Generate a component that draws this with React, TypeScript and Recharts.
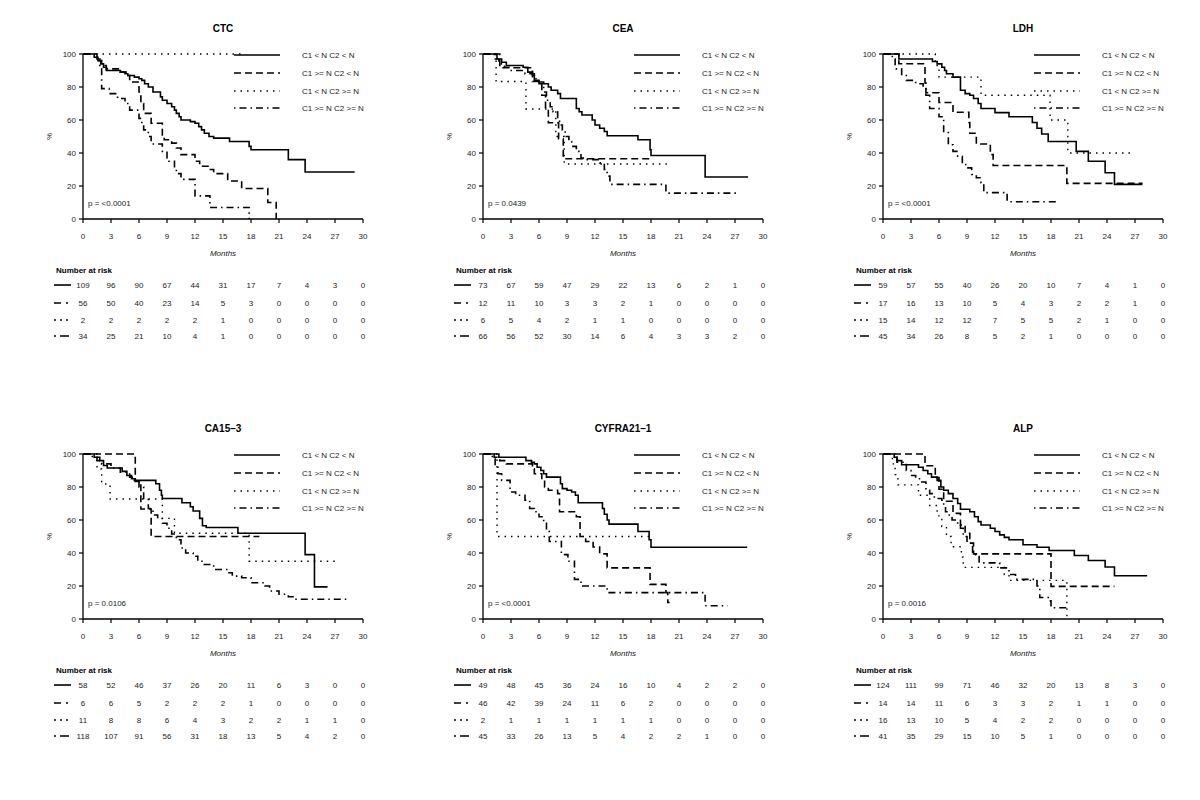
import React from 'react';
import { LineChart, Line, XAxis, YAxis } from 'recharts';

// ---------- shared labels / ticks ----------
const monthTicks = [0, 3, 6, 9, 12, 15, 18, 21, 24, 27, 30];
const pctTicks = [0, 20, 40, 60, 80, 100];
const groupLabels = ['C1 < N C2 < N', 'C1 >= N C2 < N', 'C1 < N C2 >= N', 'C1 >= N C2 >= N'];
const lineDashes = ['', '7 4', '1.5 5', '7 4 1.5 4'];
const legendOffsets = [0, 0, 0, 11];
const tableDashes = ['', '7 5 2 5', '2 4', '2 4 9 5'];

// ---------- CTC ----------
const ctcA: number[][] = [[0,100],[1.2,98],[1.6,96],[1.9,94],[2.2,92],[2.5,90],[4,89],[4.5,88],[4.8,87],[5.5,86],[6,85],[6.3,84],[6.6,82],[7,80],[7.5,77],[8.3,74],[8.5,72],[9,70],[9.5,68],[9.8,66],[10,64],[10.3,62],[10.5,60],[11.5,59],[12,58],[12.4,56],[12.7,54],[13,52],[13.5,50],[14,49],[15.7,47],[17.8,44],[18,42],[22,36],[23.8,28.5],[29.1,28.5]];
const ctcB: number[][] = [[0,100],[1.5,96],[2,93],[2.5,91],[4,89],[4.8,87],[5,83],[6,77],[6.2,70],[6.5,64],[7.3,58],[8.5,50],[8.7,48],[9.5,46],[10,43],[10.5,39],[12,35],[12.5,32],[13.5,30],[14,27.5],[15.5,23],[17,18.5],[19.8,10],[20.7,0]];
const ctcC: number[][] = [[0,100],[17,100]];
const ctcD: number[][] = [[0,100],[1.5,97],[1.8,91],[2,79],[2.8,76],[3.7,73],[4.5,70],[5,66],[6,61],[6.3,58],[6.5,54],[7,50],[7.3,45.5],[8.5,41],[9,37],[9.2,35],[9.8,30],[10,27.5],[10.5,24],[12,14],[13.6,7],[17.8,0]];
const ctcRisk = [
  [109, 96, 90, 67, 44, 31, 17, 7, 4, 3, 0],
  [56, 50, 40, 23, 14, 5, 3, 0, 0, 0, 0],
  [2, 2, 2, 2, 2, 1, 0, 0, 0, 0, 0],
  [34, 25, 21, 10, 4, 1, 0, 0, 0, 0, 0],
];

// ---------- CEA ----------
const ceaA: number[][] = [[0,100],[1.5,97],[2,95],[2.5,93],[4.3,92],[4.8,89],[5.3,87],[5.5,84],[6,83],[6.5,82],[7,80],[7.3,78],[8,76],[8.3,73],[10,67],[10.3,65],[10.6,63],[11.7,60],[12,57],[12.5,55],[13,53],[13.3,50.5],[16.6,48],[17.9,42],[18,38.5],[23.8,25.5],[28.4,25.5]];
const ceaB: number[][] = [[0,100],[1.8,91.7],[5.3,83.3],[6.3,75],[6.7,66.7],[7,58.3],[8.1,48.6],[8.6,36.5],[17.9,36.5]];
const ceaC: number[][] = [[0,100],[1.4,83.3],[4.6,66.7],[7.8,50],[8.7,33.3],[19.7,33.3]];
const ceaD: number[][] = [[0,100],[1.2,97],[1.7,94],[2.3,92],[2.8,90],[4.5,88],[5.5,85],[6,82],[6.5,77],[6.8,72],[7.2,68],[7.5,65],[8,61],[8.2,57],[8.5,54],[8.8,50],[9.2,47],[9.5,44],[10,41],[10.5,37],[11,36],[12.5,34],[13,30],[13.3,26],[13.6,21],[19.6,15.7],[27.5,15.7]];
const ceaRisk = [
  [73, 67, 59, 47, 29, 22, 13, 6, 2, 1, 0],
  [12, 11, 10, 3, 3, 2, 1, 0, 0, 0, 0],
  [6, 5, 4, 2, 1, 1, 0, 0, 0, 0, 0],
  [66, 56, 52, 30, 14, 6, 4, 3, 3, 2, 0],
];

// ---------- LDH ----------
const ldhA: number[][] = [[0,100],[1.7,97],[5.3,95.5],[5.8,94],[6.3,92],[6.6,90],[6.8,88],[7.5,86],[8.3,78],[8.8,76],[9.3,75],[9.7,73],[10.2,70],[10.5,67],[12,64.5],[13.5,62],[16,58.5],[16.5,55],[17,51.5],[17.7,47],[20.7,41],[22,35],[23.8,28],[24.8,21],[27.8,21]];
const ldhB: number[][] = [[0,100],[1.7,94.1],[4.5,82.4],[4.6,76.5],[6,70.6],[7.5,64.7],[9.2,58.5],[9.3,52],[10,45.5],[11.5,39],[11.8,32.4],[19.7,21.6],[27.8,21.6]];
const ldhC: number[][] = [[0,100],[5.6,93],[6,86],[10.5,75],[17.9,60],[19.8,40],[26.8,40]];
const ldhD: number[][] = [[0,100],[1,97],[1.3,91],[2,87],[2.5,84],[3.5,82],[4.3,79],[4.6,75],[5,67],[6,62],[6.5,53],[7,45],[7.5,41],[8,38],[8.5,33],[9,31],[9.5,27],[10,25],[10.5,22],[10.8,16],[13.3,10.5],[18.9,10.5]];
const ldhRisk = [
  [59, 57, 55, 40, 26, 20, 10, 7, 4, 1, 0],
  [17, 16, 13, 10, 5, 4, 3, 2, 2, 1, 0],
  [15, 14, 12, 12, 7, 5, 5, 2, 1, 0, 0],
  [45, 34, 26, 8, 5, 2, 1, 0, 0, 0, 0],
];

// ---------- CA15-3 ----------
const caA: number[][] = [[0,100],[1.2,98],[1.8,96],[2.2,93],[2.6,91.5],[4.2,89.5],[4.7,87],[5.2,85],[5.6,84],[7.8,82],[8.2,78],[8.4,75],[8.5,73],[10.6,70.5],[11.5,68],[11.8,65.5],[12.5,61],[12.8,56.5],[13.2,55.5],[16.6,52],[23.8,39],[24.8,19.5],[26.2,19.5]];
const caB: number[][] = [[0,100],[5.6,83.3],[6.2,66.7],[7.3,50],[18.9,50]];
const caC: number[][] = [[0,100],[1.5,90.9],[2,81.8],[2.9,72.7],[8.5,61],[9.8,52],[17.8,35],[27.1,35]];
const caD: number[][] = [[0,100],[1,98],[1.5,96],[2,94],[3,91.5],[4,89],[5,86],[5.5,84],[6,80],[6.5,73],[7,67],[7.5,63],[8,61.5],[8.5,58],[9,55],[9.5,51.5],[10,48],[10.5,43],[11,40],[11.8,38],[12.3,35],[13,33],[14,30],[15.5,28],[16,26],[17,25],[18,22],[19.5,20],[20,17],[21,15],[22,13.5],[22.5,12],[28.6,12]];
const caRisk = [
  [58, 52, 46, 37, 26, 20, 11, 6, 3, 0, 0],
  [6, 6, 5, 2, 2, 2, 1, 0, 0, 0, 0],
  [11, 8, 8, 6, 4, 3, 2, 2, 1, 1, 0],
  [118, 107, 91, 56, 31, 18, 13, 5, 4, 2, 0],
];

// ---------- CYFRA21-1 ----------
const cyA: number[][] = [[0,100],[1.7,98],[4.6,96],[5.2,95],[5.5,94],[5.8,92],[6.2,90],[6.5,88],[6.8,86],[8.3,82],[8.5,79],[9,78],[9.5,77],[9.9,75],[10.2,70.5],[12.8,67],[13,63.5],[13.3,60],[13.5,57.5],[16.6,53],[17.8,48],[18,43.5],[28.3,43.5]];
const cyB: number[][] = [[0,100],[1.2,98],[1.8,96],[2.5,94],[5.3,91],[5.5,88],[6.3,84],[6.6,80],[7,78],[8,76],[8.2,65],[10,62],[10.4,50],[11,47],[11.8,43.6],[12.5,39.5],[13.3,31],[17.9,21],[19.6,16],[19.8,10],[20,10]];
const cyC: number[][] = [[0,100],[1.5,50],[17.9,50]];
const cyD: number[][] = [[0,100],[1,97],[1.3,93],[1.6,88],[2,84],[2.9,77],[3.5,75],[4.5,72],[5,67],[5.5,65],[6,62],[6.5,58],[6.8,53],[7.1,47],[8.4,39],[9.1,35],[9.8,24],[10.5,20],[13.3,16],[23.8,8],[26.2,8]];
const cyRisk = [
  [49, 48, 45, 36, 24, 16, 10, 4, 2, 2, 0],
  [46, 42, 39, 24, 11, 6, 2, 0, 0, 0, 0],
  [2, 1, 1, 1, 1, 1, 1, 0, 0, 0, 0],
  [45, 33, 26, 13, 5, 4, 2, 2, 1, 0, 0],
];

// ---------- ALP ----------
const alpA: number[][] = [[0,100],[1.2,98],[1.5,96],[2,93.5],[3.8,92],[4.3,90],[4.8,88],[5.2,86],[5.8,84],[6.2,80],[6.5,78],[7,76],[7.5,73],[8,70],[8.3,66.5],[9.3,65],[9.8,62],[10.2,59],[10.5,57],[11.5,55],[12,53],[12.5,51],[13,49.5],[13.5,48],[15,45],[16.5,43.5],[17.8,41.5],[20.5,38.5],[22,35.5],[23.8,31.5],[24.8,26.2],[28.3,26.2]];
const alpB: number[][] = [[0,100],[4.5,92.9],[5.6,85.7],[6,78.6],[6.5,71.4],[7.5,64],[8.3,57],[8.8,52],[9.3,46],[9.7,39.5],[18,19.8],[24.8,19.8]];
const alpC: number[][] = [[0,100],[1,94],[1.3,87.5],[1.6,81.3],[3.8,75],[5,68.8],[5.8,62.5],[6.3,56],[6.8,50],[7.3,43.8],[8.4,37.5],[8.6,31.3],[13,27],[13.5,23.4],[19.7,0]];
const alpD: number[][] = [[0,100],[1.5,95],[2.5,90],[3,87],[3.5,85],[4,83],[4.6,78],[5,76],[5.5,73],[6.3,72],[6.5,68],[6.7,65],[7,63],[7.4,60],[8,57],[8.3,55],[8.6,50],[9,46],[9.6,39],[10.3,34],[12.5,31],[13.5,27],[14.2,24],[16.5,20],[16.8,13],[17.7,11],[18,6.8],[19.8,6.8]];
const alpRisk = [
  [124, 111, 99, 71, 46, 32, 20, 13, 8, 3, 0],
  [14, 14, 11, 6, 3, 3, 2, 1, 1, 0, 0],
  [16, 13, 10, 5, 4, 2, 2, 0, 0, 0, 0],
  [41, 35, 29, 15, 10, 5, 1, 0, 0, 0, 0],
];

// ---------- layout constants (styling only) ----------
const W = 400;
const H = 400;
const PLOT_TOP = 54;
const PLOT_BOTTOM = 219;
const PLOT_LEFT = 83;
const PLOT_RIGHT = 363;
const LEG_Y = [55, 73, 91, 108];
const RISK_Y = [285, 303, 320, 336];
const FONT = '"Liberation Sans", Arial, Helvetica, sans-serif';
const TXT = '#1a1a1a';

type PanelProps = {
  title: string;
  pText: string;
  curves: number[][][];
  risk: number[][];
  left: number;
  top: number;
};

const Panel = ({ title, pText, curves, risk, left, top }: PanelProps) => {
  const cx = (PLOT_LEFT + PLOT_RIGHT) / 2;
  const renderTick = (p: any) => {
    const { x, payload } = p;
    const i = monthTicks.indexOf(payload.value);
    return (
      <g>
        <text x={x} y={PLOT_BOTTOM + 20} textAnchor="middle" fontSize={8} fill={TXT} fontFamily={FONT}>
          {payload.value}
        </text>
        {risk.map((row, r) => (
          <text key={r} x={x} y={RISK_Y[r] + 3} textAnchor="middle" fontSize={8} fill={TXT} fontFamily={FONT}>
            {row[i]}
          </text>
        ))}
      </g>
    );
  };
  return (
    <div style={{ position: 'absolute', left, top, width: W, height: H }}>
      <LineChart
        width={W}
        height={H}
        margin={{ top: PLOT_TOP, right: W - PLOT_RIGHT, left: 0, bottom: 0 }}
      >
        <XAxis
          type="number"
          dataKey="t"
          domain={[0, 30]}
          ticks={monthTicks}
          interval={0}
          allowDataOverflow
          height={H - PLOT_BOTTOM}
          tickSize={4}
          stroke="#000"
          axisLine={{ stroke: '#000', strokeWidth: 1.3 }}
          tickLine={{ stroke: '#000', strokeWidth: 1.2 }}
          tick={renderTick}
        />
        <YAxis
          type="number"
          domain={[0, 100]}
          ticks={pctTicks}
          interval={0}
          width={PLOT_LEFT}
          tickSize={4}
          tickMargin={3}
          stroke="#000"
          axisLine={{ stroke: '#000', strokeWidth: 1.3 }}
          tickLine={{ stroke: '#000', strokeWidth: 1.2 }}
          tick={{ fontSize: 8, fill: TXT, fontFamily: FONT }}
        />
        {curves.map((c, k) => (
          <Line
            key={k}
            data={c.map(([t, s]) => ({ t, s }))}
            dataKey="s"
            type="stepAfter"
            stroke="#000"
            strokeWidth={k === 2 ? 1.4 : 1.6}
            strokeDasharray={lineDashes[k] || undefined}
            dot={false}
            activeDot={false}
            isAnimationActive={false}
          />
        ))}
        <text x={cx} y={32} textAnchor="middle" fontSize={10} fontWeight="bold" fill="#000" fontFamily={FONT}>
          {title}
        </text>
        <text x={cx} y={256} textAnchor="middle" fontSize={8} fontStyle="italic" fill={TXT} fontFamily={FONT}>
          Months
        </text>
        <text
          x={52}
          y={(PLOT_TOP + PLOT_BOTTOM) / 2}
          textAnchor="middle"
          fontSize={8}
          fill={TXT}
          fontFamily={FONT}
          transform={`rotate(-90 52 ${(PLOT_TOP + PLOT_BOTTOM) / 2})`}
        >
          %
        </text>
        <text x={88} y={206} fontSize={8} fill={TXT} fontFamily={FONT}>
          {pText}
        </text>
        {groupLabels.map((g, r) => (
          <g key={g}>
            <line
              x1={234}
              x2={280}
              y1={LEG_Y[r]}
              y2={LEG_Y[r]}
              stroke="#000"
              strokeWidth={1.6}
              strokeDasharray={lineDashes[r] || undefined}
              strokeDashoffset={legendOffsets[r]}
            />
            <text x={302} y={LEG_Y[r] + 3} fontSize={8} fill={TXT} fontFamily={FONT}>
              {g}
            </text>
          </g>
        ))}
        <text x={56} y={273} fontSize={8} fontWeight="bold" fill="#000" fontFamily={FONT}>
          Number at risk
        </text>
        {RISK_Y.map((y, r) => (
          <line key={r} x1={54} x2={71} y1={y} y2={y} stroke="#000" strokeWidth={1.6} strokeDasharray={tableDashes[r] || undefined} />
        ))}
      </LineChart>
    </div>
  );
}

export default function App() {
  return (
    <div style={{ position: 'absolute', left: 0, top: 0, width: 1200, height: 800, background: '#fff', fontFamily: FONT }}>
      <Panel title="CTC" pText="p = <0.0001" curves={[ctcA, ctcB, ctcC, ctcD]} risk={ctcRisk} left={0} top={0} />
      <Panel title="CEA" pText="p = 0.0439" curves={[ceaA, ceaB, ceaC, ceaD]} risk={ceaRisk} left={400} top={0} />
      <Panel title="LDH" pText="p = <0.0001" curves={[ldhA, ldhB, ldhC, ldhD]} risk={ldhRisk} left={800} top={0} />
      <Panel title="CA15–3" pText="p = 0.0106" curves={[caA, caB, caC, caD]} risk={caRisk} left={0} top={400} />
      <Panel title="CYFRA21–1" pText="p = <0.0001" curves={[cyA, cyB, cyC, cyD]} risk={cyRisk} left={400} top={400} />
      <Panel title="ALP" pText="p = 0.0016" curves={[alpA, alpB, alpC, alpD]} risk={alpRisk} left={800} top={400} />
    </div>
  );
}
